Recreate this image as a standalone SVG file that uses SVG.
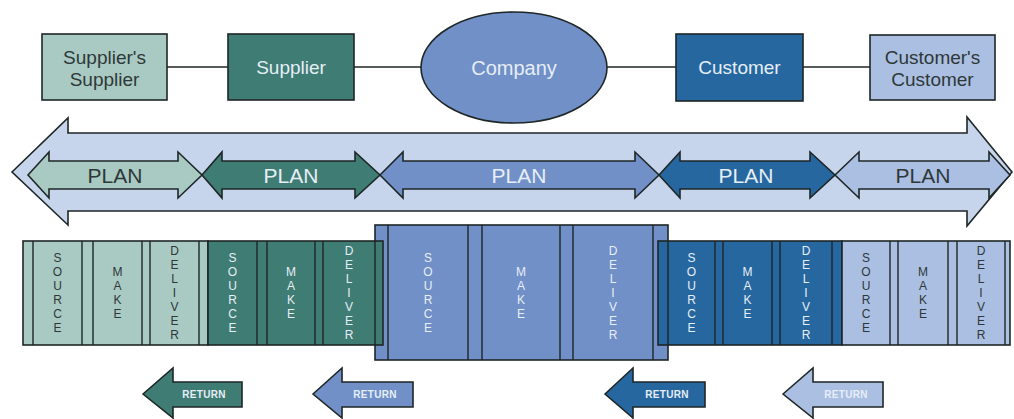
<svg xmlns="http://www.w3.org/2000/svg" width="1014" height="419" viewBox="0 0 1014 419">
<style>
.ol{stroke:#1e2626;stroke-width:1.6;stroke-linejoin:miter}
.ln{stroke:#1e2626;stroke-width:1.4;fill:none}
.lt{fill:#a9cac3}.dt{fill:#3f7c73}.mb{fill:#7190c8}.db{fill:#2767a0}.lb{fill:#abbfe2}
.t{font-family:"Liberation Sans",Arial,sans-serif;text-anchor:middle}
.top{font-size:19px}
.plan{font-size:21px}
.v{font-size:12px}
.ret{font-size:10px;font-weight:bold;letter-spacing:0.3px}
.dk{fill:#2e3838}.wh{fill:#e6eef6}
</style>
<rect width="1014" height="419" fill="#ffffff"/>
<g id="connectors">
<line class="ln" x1="167" y1="67" x2="228" y2="67"/>
<line class="ln" x1="354" y1="67" x2="421" y2="67"/>
<line class="ln" x1="607" y1="67" x2="676" y2="67"/>
<line class="ln" x1="803" y1="67" x2="870" y2="67"/>
</g>
<g id="suppliers-supplier">
<rect class="ol lt" x="42" y="34" width="125" height="66"/>
<text class="t top dk" x="104.5" y="64">Supplier's<tspan x="104.5" dy="22">Supplier</tspan></text>
</g>
<g id="supplier">
<rect class="ol dt" x="228" y="34" width="126" height="66"/>
<text class="t top wh" x="291" y="74">Supplier</text>
</g>
<g id="company">
<ellipse class="ol mb" cx="514" cy="67.5" rx="93" ry="55.5"/>
<text class="t top wh" x="514" y="75" style="font-size:20px">Company</text>
</g>
<g id="customer">
<rect class="ol db" x="676" y="34" width="127" height="67"/>
<text class="t top wh" x="739.5" y="74">Customer</text>
</g>
<g id="customers-customer">
<rect class="ol lb" x="870" y="35" width="125" height="65"/>
<text class="t top dk" x="932.5" y="64">Customer's<tspan x="932.5" dy="22">Customer</tspan></text>
</g>
<g id="plan-big">
<polygon class="ol" fill="#c6d5ec" points="12,172 68,118 68,133 967,133 967,117 1012,172 967,226 967,211 68,211 68,225"/>
</g>
<g id="plan-1">
<polygon class="ol lt" points="28,175 49,152 49,161 178,161 178,152 202,175 178,198 178,189 49,189 49,198"/>
<text class="t plan dk" x="115" y="183">PLAN</text>
</g>
<g id="plan-2">
<polygon class="ol dt" points="202,175 222,152 222,161 355,161 355,152 380,175 355,198 355,189 222,189 222,198"/>
<text class="t plan wh" x="291" y="183">PLAN</text>
</g>
<g id="plan-3">
<polygon class="ol mb" points="380,175 403,152 403,161 635,161 635,152 659,175 635,198 635,189 403,189 403,198"/>
<text class="t plan wh" x="519" y="183">PLAN</text>
</g>
<g id="plan-4">
<polygon class="ol db" points="659,175 680,152 680,161 810,161 810,152 835,175 810,198 810,189 680,189 680,198"/>
<text class="t plan wh" x="746" y="183">PLAN</text>
</g>
<g id="plan-5">
<polygon class="ol lb" points="835,175 859,152 859,161 989,161 989,152 1010,175 989,198 989,189 859,189 859,198"/>
<text class="t plan dk" x="923" y="183">PLAN</text>
</g>
<g id="company-processes">
<rect class="ol mb" x="375" y="225" width="293" height="135" stroke-width="2"/>
<g class="ln" stroke="#1e2a44">
<line x1="388" y1="225" x2="388" y2="360"/><line x1="468" y1="225" x2="468" y2="360"/>
<line x1="482" y1="225" x2="482" y2="360"/><line x1="560" y1="225" x2="560" y2="360"/>
<line x1="573" y1="225" x2="573" y2="360"/><line x1="653" y1="225" x2="653" y2="360"/>
</g>
<text class="t v wh" x="428" y="262">S<tspan x="428" dy="14">O</tspan><tspan x="428" dy="14">U</tspan><tspan x="428" dy="14">R</tspan><tspan x="428" dy="14">C</tspan><tspan x="428" dy="14">E</tspan></text>
<text class="t v wh" x="521" y="276">M<tspan x="521" dy="14">A</tspan><tspan x="521" dy="14">K</tspan><tspan x="521" dy="14">E</tspan></text>
<text class="t v wh" x="613" y="255">D<tspan x="613" dy="14">E</tspan><tspan x="613" dy="14">L</tspan><tspan x="613" dy="14">I</tspan><tspan x="613" dy="14">V</tspan><tspan x="613" dy="14">E</tspan><tspan x="613" dy="14">R</tspan></text>
</g>
<g id="suppliers-supplier-processes">
<rect class="ol lt" x="23" y="241" width="185" height="104"/>
<g class="ln">
<line x1="33" y1="241" x2="33" y2="345"/><line x1="82" y1="241" x2="82" y2="345"/>
<line x1="93" y1="241" x2="93" y2="345"/><line x1="142" y1="241" x2="142" y2="345"/>
<line x1="150" y1="241" x2="150" y2="345"/><line x1="199" y1="241" x2="199" y2="345"/>
</g>
<text class="t v dk" x="57.5" y="262">S<tspan x="57.5" dy="14">O</tspan><tspan x="57.5" dy="14">U</tspan><tspan x="57.5" dy="14">R</tspan><tspan x="57.5" dy="14">C</tspan><tspan x="57.5" dy="14">E</tspan></text>
<text class="t v dk" x="117.5" y="276">M<tspan x="117.5" dy="14">A</tspan><tspan x="117.5" dy="14">K</tspan><tspan x="117.5" dy="14">E</tspan></text>
<text class="t v dk" x="174.5" y="255">D<tspan x="174.5" dy="14">E</tspan><tspan x="174.5" dy="14">L</tspan><tspan x="174.5" dy="14">I</tspan><tspan x="174.5" dy="14">V</tspan><tspan x="174.5" dy="14">E</tspan><tspan x="174.5" dy="14">R</tspan></text>
</g>
<g id="supplier-processes">
<rect class="ol dt" x="208" y="241" width="175" height="104"/>
<g class="ln">
<line x1="257" y1="241" x2="257" y2="345"/><line x1="267" y1="241" x2="267" y2="345"/>
<line x1="315" y1="241" x2="315" y2="345"/><line x1="323" y1="241" x2="323" y2="345"/>
<line x1="375" y1="241" x2="375" y2="345"/>
</g>
<text class="t v wh" x="232.5" y="262">S<tspan x="232.5" dy="14">O</tspan><tspan x="232.5" dy="14">U</tspan><tspan x="232.5" dy="14">R</tspan><tspan x="232.5" dy="14">C</tspan><tspan x="232.5" dy="14">E</tspan></text>
<text class="t v wh" x="291" y="276">M<tspan x="291" dy="14">A</tspan><tspan x="291" dy="14">K</tspan><tspan x="291" dy="14">E</tspan></text>
<text class="t v wh" x="349" y="255">D<tspan x="349" dy="14">E</tspan><tspan x="349" dy="14">L</tspan><tspan x="349" dy="14">I</tspan><tspan x="349" dy="14">V</tspan><tspan x="349" dy="14">E</tspan><tspan x="349" dy="14">R</tspan></text>
</g>
<g id="customer-processes">
<rect class="ol db" x="658" y="241" width="184" height="104"/>
<g class="ln">
<line x1="668" y1="241" x2="668" y2="345"/><line x1="715" y1="241" x2="715" y2="345"/>
<line x1="723" y1="241" x2="723" y2="345"/><line x1="772" y1="241" x2="772" y2="345"/>
<line x1="780" y1="241" x2="780" y2="345"/><line x1="832" y1="241" x2="832" y2="345"/>
</g>
<text class="t v wh" x="691.5" y="262">S<tspan x="691.5" dy="14">O</tspan><tspan x="691.5" dy="14">U</tspan><tspan x="691.5" dy="14">R</tspan><tspan x="691.5" dy="14">C</tspan><tspan x="691.5" dy="14">E</tspan></text>
<text class="t v wh" x="747.5" y="276">M<tspan x="747.5" dy="14">A</tspan><tspan x="747.5" dy="14">K</tspan><tspan x="747.5" dy="14">E</tspan></text>
<text class="t v wh" x="806" y="255">D<tspan x="806" dy="14">E</tspan><tspan x="806" dy="14">L</tspan><tspan x="806" dy="14">I</tspan><tspan x="806" dy="14">V</tspan><tspan x="806" dy="14">E</tspan><tspan x="806" dy="14">R</tspan></text>
</g>
<g id="customers-customer-processes">
<rect class="ol lb" x="842" y="241" width="168" height="104"/>
<g class="ln">
<line x1="890" y1="241" x2="890" y2="345"/><line x1="898" y1="241" x2="898" y2="345"/>
<line x1="948" y1="241" x2="948" y2="345"/><line x1="957" y1="241" x2="957" y2="345"/>
<line x1="1005" y1="241" x2="1005" y2="345"/>
</g>
<text class="t v dk" x="866" y="262">S<tspan x="866" dy="14">O</tspan><tspan x="866" dy="14">U</tspan><tspan x="866" dy="14">R</tspan><tspan x="866" dy="14">C</tspan><tspan x="866" dy="14">E</tspan></text>
<text class="t v dk" x="923" y="276">M<tspan x="923" dy="14">A</tspan><tspan x="923" dy="14">K</tspan><tspan x="923" dy="14">E</tspan></text>
<text class="t v dk" x="981" y="255">D<tspan x="981" dy="14">E</tspan><tspan x="981" dy="14">L</tspan><tspan x="981" dy="14">I</tspan><tspan x="981" dy="14">V</tspan><tspan x="981" dy="14">E</tspan><tspan x="981" dy="14">R</tspan></text>
</g>
<g id="return-1">
<polygon class="ol dt" points="143,394 173,368 173,382 242,382 242,407 173,407 173,418"/>
<text class="t ret wh" x="204" y="398">RETURN</text>
</g>
<g id="return-2">
<polygon class="ol mb" points="313,394 342,368 342,382 413,382 413,407 342,407 342,418"/>
<text class="t ret wh" x="375" y="398">RETURN</text>
</g>
<g id="return-3">
<polygon class="ol db" points="605,394 633,368 633,382 705,382 705,407 633,407 633,418"/>
<text class="t ret wh" x="667" y="398">RETURN</text>
</g>
<g id="return-4">
<polygon class="ol lb" points="783,394 813,368 813,382 883,382 883,407 813,407 813,418"/>
<text class="t ret wh" x="846" y="398">RETURN</text>
</g>
</svg>
